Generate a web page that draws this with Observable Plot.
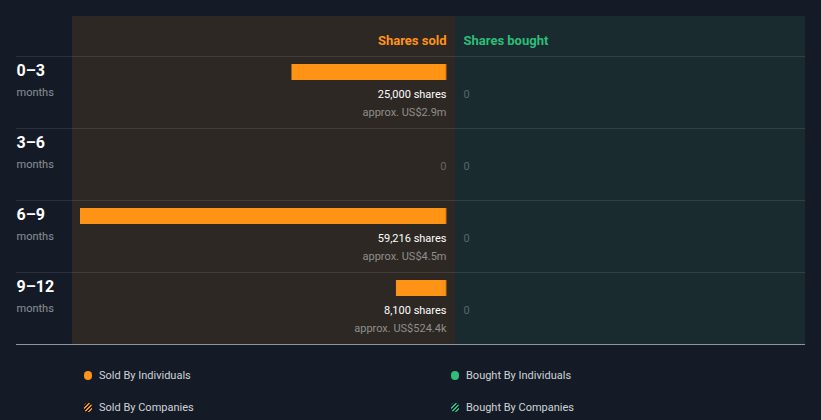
<!DOCTYPE html>
<html>
<head>
<meta charset="utf-8">
<script src="https://cdn.jsdelivr.net/npm/d3@7"></script>
<script src="https://cdn.jsdelivr.net/npm/@observablehq/plot@0.6"></script>
<style>
  html, body { margin: 0; padding: 0; background: #151b26; }
  body { width: 821px; height: 420px; overflow: hidden; font-family: Roboto, "Noto Sans", sans-serif; }
  #legend { position: relative; height: 70px; }
  .item { position: absolute; font-size: 11px; color: #cfd3d8; display: flex; align-items: center; }
  .sw { width: 8px; height: 9px; border-radius: 4px; margin-right: 7px; }
  .hatch-o { background: repeating-linear-gradient(135deg, #ff9316 0 1.5px, #151b26 1.5px 3px); }
  .hatch-g { background: repeating-linear-gradient(135deg, #2ebd7a 0 1.5px, #151b26 1.5px 3px); }
</style>
</head>
<body>
<div id="chart"></div>
<div id="legend">
  <div class="item" style="left:84px;top:19px"><span class="sw" style="background:#ff9316"></span>Sold By Individuals</div>
  <div class="item" style="left:451px;top:19px"><span class="sw" style="background:#2ebd7a"></span>Bought By Individuals</div>
  <div class="item" style="left:84px;top:51px"><span class="sw hatch-o"></span>Sold By Companies</div>
  <div class="item" style="left:451px;top:51px"><span class="sw hatch-g"></span>Bought By Companies</div>
</div>
<script>
const periods = ["0–3", "3–6", "6–9", "9–12"];
const sharesSold = [25000, 0, 59216, 8100];
const valueSold = ["approx. US$2.9m", "", "approx. US$4.5m", "approx. US$524.4k"];
const sharesBought = [0, 0, 0, 0];

const rows = periods.map((p, i) => ({
  period: p, sold: sharesSold[i], value: valueSold[i], bought: sharesBought[i]
}));
const fmt = d3.format(",");

const chart = Plot.plot({
  width: 821,
  height: 350,
  marginLeft: 16,
  marginRight: 16,
  marginTop: 16,
  marginBottom: 6,
  style: { background: "transparent", fontFamily: "Roboto, sans-serif" },
  x: { domain: [d3.max(sharesSold), 0], range: [80, 446], axis: null },
  y: { domain: periods, range: [56, 344], padding: 0, axis: null },
  marks: [
    // panels
    Plot.rect([0], { fill: "#2d2823", insetLeft: 56, insetRight: 350 }),
    Plot.rect([0], { fill: "#192b2e", insetLeft: 439 }),
    // headers
    Plot.text(["Shares sold"], { x: () => 0, frameAnchor: "top", dy: 19, text: d => d, textAnchor: "end", fill: "#ff9316", fontSize: 13, fontWeight: "bold" }),
    Plot.text(["Shares bought"], { x: () => 0, frameAnchor: "top", dy: 19, dx: 17, text: d => d, textAnchor: "start", fill: "#2ebd7a", fontSize: 13, fontWeight: "bold" }),
    // separators
    Plot.ruleY(rows, { y: "period", dy: -36, stroke: "#ffffff", strokeOpacity: 0.1 }),
    Plot.ruleY(rows.slice(-1), { y: "period", dy: 36, stroke: "#a9b4bb", strokeOpacity: 0.8 }),
    // bars
    Plot.barX(rows.filter(d => d.sold > 0), { x1: 0, x2: "sold", y: "period", fill: "#ff9316", insetTop: 8, insetBottom: 48 }),
    Plot.tickX(rows.filter(d => d.sold > 0), { x: 0, y: "period", dx: -0.5, stroke: "#c87418", insetTop: 8, insetBottom: 48 }),
    // labels sold
    Plot.text(rows.filter(d => d.sold > 0), { x: () => 0, y: "period", dy: 2, text: d => fmt(d.sold) + " shares", textAnchor: "end", fill: "#ffffff", fontSize: 11 }),
    Plot.text(rows.filter(d => d.sold > 0), { x: () => 0, y: "period", dy: 20, text: "value", textAnchor: "end", fill: "#8f8f8f", fontSize: 11 }),
    Plot.text(rows.filter(d => d.sold === 0), { x: () => 0, y: "period", dy: 2, text: d => fmt(d.sold), textAnchor: "end", fill: "#6a6662", fontSize: 11 }),
    // labels bought
    Plot.text(rows, { x: () => 0, y: "period", dx: 17, dy: 2, text: d => fmt(d.bought), textAnchor: "start", fill: "#566968", fontSize: 11 }),
    // period labels
    Plot.text(rows, { y: "period", frameAnchor: "left", dy: -22, text: "period", textAnchor: "start", fill: "#ffffff", fontSize: 16, fontWeight: "bold" }),
    Plot.text(rows, { y: "period", frameAnchor: "left", dy: 0, text: () => "months", textAnchor: "start", fill: "#8c9096", fontSize: 11 })
  ]
});
document.getElementById("chart").appendChild(chart);
</script>
</body>
</html>
